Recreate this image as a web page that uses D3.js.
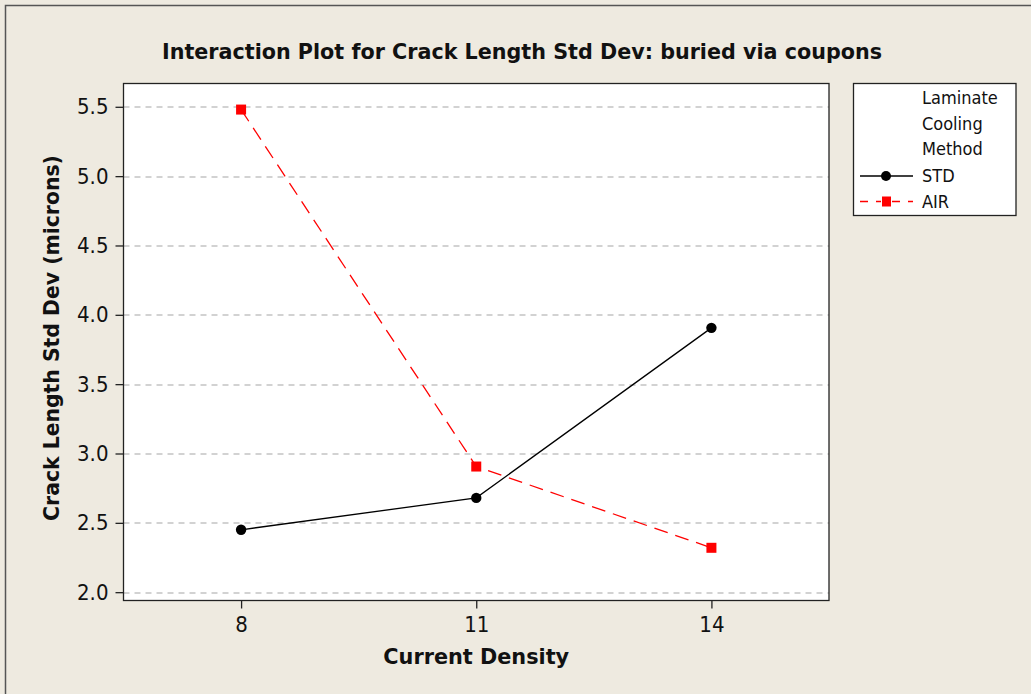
<!DOCTYPE html>
<html>
<head>
<meta charset="utf-8">
<script src="https://cdn.jsdelivr.net/npm/d3@7"></script>
<style>
  body { margin: 0; background: #eeeae0; }
  svg { display: block; }
</style>
</head>
<body>
<div id="chart"></div>
<script>
// data
const densities = [8, 11, 14];
const stdValues = [2.45, 2.68, 3.906];
const airValues = [5.48, 2.906, 2.32];
const yTicks = [2.0, 2.5, 3.0, 3.5, 4.0, 4.5, 5.0, 5.5];
const legendTitle = ["Laminate", "Cooling", "Method"];

const W = 1031, H = 694;
const margin = { top: 83.5, right: 202, bottom: 93.5, left: 123.5 };
const width = W - margin.left - margin.right;
const height = H - margin.top - margin.bottom;
const font = "'DejaVu Sans', Verdana, sans-serif";
const condFont = "'DejaVu Sans Condensed', 'DejaVu Sans', sans-serif";

const svg = d3.select("#chart").append("svg")
    .attr("width", W).attr("height", H)
    .style("font-family", font);

svg.append("rect").attr("width", W).attr("height", H).attr("fill", "#eeeae0");
// outer frame (only top/left visible)
svg.append("path").attr("d", `M5.5,${H} V5.5 H${W}`)
    .attr("fill", "none").attr("stroke", "#555").attr("stroke-width", 1.5);

const g = svg.append("g").attr("transform", `translate(${margin.left},${margin.top})`);

const x = d3.scaleLinear().domain([6.5, 15.5]).range([0, width]);
const y = d3.scaleLinear().domain([1.94, 5.668]).range([height, 0]);

g.append("rect").attr("width", width).attr("height", height).attr("fill", "#fff");

// grid
g.selectAll(".grid").data(yTicks).enter().append("line")
    .attr("class", "grid")
    .attr("x1", 0).attr("x2", width)
    .attr("y1", d => Math.round(y(d)) + 0.5).attr("y2", d => Math.round(y(d)) + 0.5)
    .attr("stroke", "#c4c4c4").attr("stroke-width", 1.3)
    .attr("stroke-dasharray", "6,5");

g.append("rect").attr("width", width).attr("height", height)
    .attr("fill", "none").attr("stroke", "#222").attr("stroke-width", 1.3);

// axes
const xAxis = d3.axisBottom(x).tickValues(densities).tickSize(8).tickPadding(5).tickSizeOuter(0);
const yAxis = d3.axisLeft(y).tickValues(yTicks).tickSize(8).tickPadding(7).tickFormat(d3.format(".1f"));

const xGroup = g.append("g").attr("transform", `translate(0,${height})`).call(xAxis);
const yGroup = g.append("g").call(yAxis);
[xGroup, yGroup].forEach(a => {
  a.select(".domain").remove();
  a.selectAll("line").attr("stroke", "#222").attr("stroke-width", 1.3);
  a.selectAll("text").attr("fill", "#111").style("font-size", "22px").style("font-family", condFont);
});
xGroup.selectAll("text").attr("dy", "0.85em");

// lines
const line = d3.line().x(d => x(d[0])).y(d => y(d[1]));
const stdPts = densities.map((d, i) => [d, stdValues[i]]);
const airPts = densities.map((d, i) => [d, airValues[i]]);

g.append("path").datum(stdPts).attr("d", line)
    .attr("fill", "none").attr("stroke", "#000").attr("stroke-width", 1.3);
g.append("path").datum(airPts).attr("d", line)
    .attr("fill", "none").attr("stroke", "#ff0000").attr("stroke-width", 1.3)
    .attr("stroke-dasharray", "14,8");

g.selectAll(".std").data(stdPts).enter().append("circle")
    .attr("cx", d => x(d[0])).attr("cy", d => y(d[1])).attr("r", 5.2).attr("fill", "#000");
g.selectAll(".air").data(airPts).enter().append("rect")
    .attr("x", d => x(d[0]) - 5).attr("y", d => y(d[1]) - 5)
    .attr("width", 10).attr("height", 10).attr("fill", "#ff0000");

// titles
svg.append("text").attr("x", 522).attr("y", 59).attr("text-anchor", "middle")
    .style("font-size", "20.7px").style("font-weight", "bold").attr("fill", "#111")
    .text("Interaction Plot for Crack Length Std Dev: buried via coupons");
svg.append("text").attr("x", margin.left + x(11)).attr("y", 664).attr("text-anchor", "middle")
    .style("font-size", "20.8px").style("font-weight", "bold").attr("fill", "#111")
    .text("Current Density");
svg.append("text").attr("transform", `translate(59,${margin.top + height / 2 - 4}) rotate(-90)`)
    .attr("text-anchor", "middle")
    .style("font-size", "20.4px").style("font-weight", "bold").attr("fill", "#111")
    .text("Crack Length Std Dev (microns)");

// legend
const lg = svg.append("g");
lg.append("rect").attr("x", 853.5).attr("y", 83.5).attr("width", 162.5).attr("height", 132)
    .attr("fill", "#fff").attr("stroke", "#222").attr("stroke-width", 1.3);
legendTitle.forEach((t, i) => {
  lg.append("text").attr("x", 922).attr("y", 104 + i * 25.5)
      .style("font-size", "18px").style("font-family", condFont).attr("fill", "#111").text(t);
});
const items = [
  { name: "STD", color: "#000", dash: null, shape: "circle" },
  { name: "AIR", color: "#ff0000", dash: "8,8", shape: "square" }
];
items.forEach((it, i) => {
  const cy = 176 + i * 25.5;
  lg.append("line").attr("x1", 860).attr("x2", 913).attr("y1", cy).attr("y2", cy)
      .attr("stroke", it.color).attr("stroke-width", 1.3)
      .attr("stroke-dasharray", it.dash);
  if (it.shape === "circle") {
    lg.append("circle").attr("cx", 886).attr("cy", cy).attr("r", 5).attr("fill", it.color);
  } else {
    lg.append("rect").attr("x", 881).attr("y", cy - 5).attr("width", 10).attr("height", 10)
        .attr("fill", "#fff");
    lg.append("rect").attr("x", 882).attr("y", cy - 5).attr("width", 9).attr("height", 10)
        .attr("fill", it.color);
  }
  lg.append("text").attr("x", 922).attr("y", cy + 6)
      .style("font-size", "18px").style("font-family", condFont).attr("fill", "#111").text(it.name);
});
</script>
</body>
</html>
